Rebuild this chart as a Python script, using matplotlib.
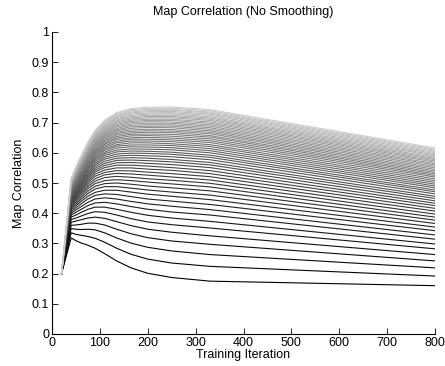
import matplotlib
matplotlib.use('Agg')
import matplotlib.pyplot as plt

plt.rcParams['font.family'] = ['Liberation Sans', 'DejaVu Sans']

iters = [20, 40, 50, 60, 75, 90, 110, 135, 165, 200, 250, 330, 800]
start_corr = 0.2

# map correlation x1000 per curve (black -> light grey), at iters[1:]
corr_x1000 = [
    [318, 309, 302, 294, 284, 266, 242, 219, 201, 187, 175, 160],
    [335, 330, 327, 323, 317, 304, 284, 264, 248, 235, 224, 192],
    [349, 347, 346, 347, 345, 335, 318, 301, 287, 275, 263, 219],
    [360, 361, 363, 367, 367, 361, 347, 332, 319, 308, 297, 242],
    [370, 374, 378, 384, 387, 383, 372, 359, 347, 337, 325, 263],
    [379, 384, 390, 399, 405, 403, 394, 382, 371, 362, 351, 282],
    [387, 394, 402, 413, 420, 420, 413, 403, 393, 384, 373, 298],
    [394, 403, 412, 425, 434, 436, 431, 422, 413, 404, 394, 314],
    [400, 411, 421, 436, 447, 451, 447, 439, 431, 423, 412, 328],
    [406, 418, 430, 447, 459, 464, 462, 455, 447, 440, 429, 342],
    [412, 425, 438, 456, 469, 476, 476, 470, 463, 456, 445, 354],
    [417, 431, 445, 465, 480, 488, 488, 483, 477, 470, 460, 366],
    [422, 437, 452, 473, 489, 498, 500, 496, 490, 484, 474, 377],
    [426, 443, 459, 481, 498, 508, 511, 508, 503, 497, 487, 387],
    [430, 448, 465, 488, 506, 518, 522, 519, 514, 509, 499, 397],
    [434, 453, 471, 495, 514, 527, 532, 530, 526, 520, 510, 407],
    [438, 458, 476, 502, 522, 535, 541, 540, 536, 531, 521, 416],
    [442, 462, 481, 508, 529, 543, 550, 550, 546, 542, 531, 425],
    [445, 466, 486, 514, 536, 551, 559, 559, 556, 551, 541, 433],
    [448, 470, 491, 520, 542, 558, 567, 568, 565, 561, 551, 441],
    [451, 474, 496, 525, 548, 565, 575, 576, 574, 570, 560, 449],
    [454, 478, 500, 530, 554, 572, 582, 584, 582, 578, 568, 456],
    [457, 482, 504, 535, 560, 579, 589, 592, 590, 587, 577, 464],
    [460, 485, 508, 540, 565, 585, 596, 599, 598, 595, 585, 471],
    [463, 488, 512, 545, 571, 591, 603, 606, 605, 602, 592, 477],
    [465, 492, 516, 549, 576, 597, 609, 613, 612, 610, 600, 484],
    [468, 495, 520, 553, 581, 602, 616, 620, 619, 617, 607, 490],
    [470, 498, 523, 558, 585, 608, 622, 626, 626, 624, 614, 496],
    [473, 501, 526, 562, 590, 613, 627, 633, 633, 630, 621, 502],
    [475, 503, 530, 566, 595, 618, 633, 639, 639, 637, 627, 508],
    [477, 506, 533, 569, 599, 623, 638, 645, 645, 643, 634, 514],
    [479, 509, 536, 573, 603, 628, 644, 650, 651, 649, 640, 520],
    [481, 511, 539, 577, 607, 632, 649, 656, 657, 655, 646, 525],
    [483, 514, 542, 580, 611, 637, 654, 661, 662, 661, 652, 530],
    [485, 516, 545, 583, 615, 641, 659, 666, 668, 667, 657, 535],
    [487, 519, 548, 587, 619, 646, 664, 671, 673, 672, 663, 540],
    [489, 521, 550, 590, 623, 650, 668, 676, 678, 677, 668, 545],
    [491, 523, 553, 593, 626, 654, 673, 681, 684, 683, 673, 550],
    [493, 525, 555, 596, 630, 658, 677, 686, 688, 688, 678, 555],
    [494, 527, 558, 599, 633, 662, 681, 691, 693, 693, 683, 560],
    [496, 529, 560, 602, 636, 665, 686, 695, 698, 698, 688, 564],
    [498, 532, 563, 605, 640, 669, 690, 700, 703, 702, 693, 569],
    [499, 534, 565, 608, 643, 673, 694, 704, 707, 707, 698, 573],
    [501, 535, 567, 611, 646, 676, 698, 708, 711, 711, 702, 577],
    [502, 537, 570, 613, 649, 680, 702, 712, 716, 716, 707, 581],
    [504, 539, 572, 616, 652, 683, 705, 716, 720, 720, 711, 585],
    [505, 541, 574, 618, 655, 686, 709, 720, 724, 724, 715, 590],
    [507, 543, 576, 621, 658, 690, 713, 724, 728, 729, 719, 593],
    [508, 545, 578, 623, 661, 693, 716, 728, 732, 733, 724, 597],
    [510, 546, 580, 626, 663, 696, 720, 732, 736, 737, 728, 601],
    [511, 548, 582, 628, 666, 699, 723, 735, 740, 741, 732, 605],
    [512, 550, 584, 630, 669, 702, 726, 739, 744, 744, 735, 609],
    [514, 551, 586, 633, 671, 705, 730, 743, 747, 748, 739, 612],
    [515, 553, 588, 635, 674, 708, 733, 746, 751, 752, 743, 616],
]

y_ticks = [0, 0.1, 0.2, 0.3, 0.4, 0.5, 0.6, 0.7, 0.8, 0.9, 1]
y_labels = ['0', '0.1', '0.2', '0.3', '0.4', '0.5', '0.6', '0.7', '0.8', '0.9', '1']

fig = plt.figure(figsize=(4.45, 3.66), dpi=100)
ax = fig.add_axes([52 / 445, 32 / 366, 383 / 445, 302 / 366])

n = len(corr_x1000)
for i, row in enumerate(corr_x1000):
    c = 0.8 * i / (n - 1)
    ys = [start_corr] + [v / 1000 for v in row]
    ax.plot(iters, ys, color=(c, c, c), lw=0.8)

ax.set_xlim(0, 800)
ax.set_ylim(0, 1)
ax.set_xticks(range(0, 801, 100))
ax.set_yticks(y_ticks)
ax.set_yticklabels(y_labels)
ax.spines['top'].set_visible(False)
ax.spines['right'].set_visible(False)
ax.tick_params(direction='in', length=4, width=0.6, labelsize=9, pad=2)
ax.set_title('Map Correlation (No Smoothing)', fontsize=9, pad=12)
ax.set_xlabel('Training Iteration', fontsize=9, labelpad=0)
ax.set_ylabel('Map Correlation', fontsize=9, labelpad=5)

fig.savefig('out.png', dpi=100)
